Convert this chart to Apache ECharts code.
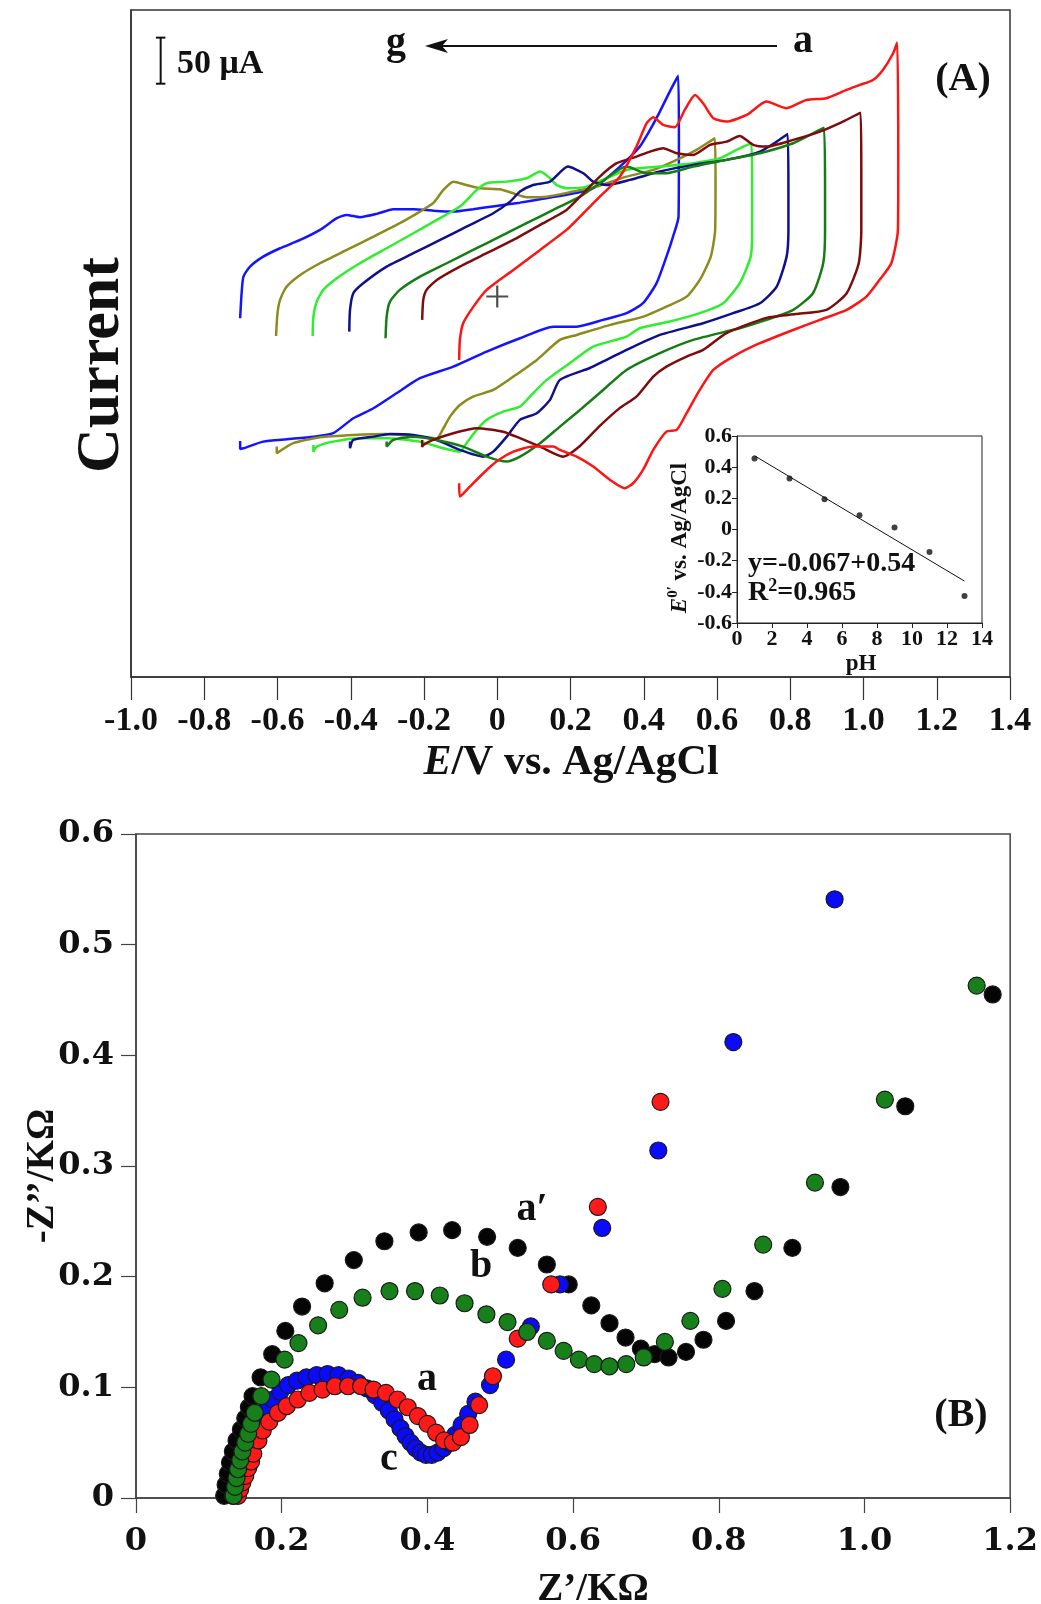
<!DOCTYPE html>
<html>
<head>
<meta charset="utf-8">
<script src="https://cdn.jsdelivr.net/npm/echarts@6/dist/echarts.min.js"></script>
<style>html,body{margin:0;padding:0;background:#fff}#c{width:1041px;height:1604px}</style>
</head>
<body>
<div id="c"></div>
<script>
// ---------- Panel A : cyclic voltammograms (E / V, current / µA, arbitrary zero) ----------
const cv_a_red = [[-0.104,-68.8],[-0.102,-47.1],[-0.093,-29.0],[-0.065,-11.0],[-0.029,7.2],[0.044,28.9],[0.117,50.6],[0.189,72.3],[0.226,86.7],[0.280,108.4],[0.335,130.2],[0.380,162.7],[0.408,188.1],[0.426,194.6],[0.453,186.3],[0.485,183.8],[0.512,202.6],[0.540,218.8],[0.562,209.8],[0.590,193.5],[0.626,189.9],[0.681,197.1],[0.735,211.6],[0.790,204.4],[0.844,213.4],[0.899,215.3],[0.954,224.3],[0.990,229.7],[1.026,235.1],[1.053,246.0],[1.081,264.1],[1.092,275.6],[1.095,144.7],[1.094,72.3],[1.076,36.1],[1.044,18.1],[1.008,-0.1],[0.954,-14.5],[0.881,-25.4],[0.808,-36.3],[0.717,-50.7],[0.644,-65.2],[0.590,-79.7],[0.553,-101.4],[0.517,-126.7],[0.490,-144.8],[0.462,-146.7],[0.426,-166.5],[0.398,-188.2],[0.371,-202.7],[0.348,-208.1],[0.308,-199.1],[0.262,-184.6],[0.217,-173.8],[0.171,-166.5],[0.153,-162.9],[0.098,-162.9],[0.044,-168.4],[-0.002,-179.2],[-0.038,-191.8],[-0.075,-206.4],[-0.102,-217.2],[-0.104,-202.7]];
const cv_b_maroon = [[-0.205,-25.4],[-0.202,-3.7],[-0.193,7.2],[-0.165,18.0],[-0.102,32.5],[-0.029,47.0],[0.044,61.4],[0.117,77.7],[0.189,94.0],[0.226,108.4],[0.280,130.2],[0.326,144.7],[0.380,151.9],[0.417,157.3],[0.453,161.0],[0.490,155.6],[0.535,153.7],[0.581,164.6],[0.626,168.1],[0.662,174.3],[0.699,164.6],[0.735,162.7],[0.808,170.0],[0.881,179.0],[0.944,189.9],[0.992,199.6],[0.994,137.4],[0.994,72.3],[0.987,36.1],[0.954,3.6],[0.899,-14.5],[0.815,-19.1],[0.735,-23.2],[0.626,-39.8],[0.562,-58.0],[0.517,-65.2],[0.462,-76.1],[0.426,-86.9],[0.380,-108.7],[0.335,-120.9],[0.280,-140.5],[0.226,-162.2],[0.180,-173.8],[0.117,-162.9],[0.062,-153.8],[0.016,-146.7],[-0.056,-143.0],[-0.120,-148.4],[-0.175,-155.7],[-0.202,-161.1],[-0.205,-163.3],[-0.205,-155.7]];
const cv_c_darkgreen = [[-0.305,-45.3],[-0.302,-21.8],[-0.293,-5.5],[-0.266,7.2],[-0.211,21.6],[-0.138,36.1],[-0.066,50.6],[0.007,65.0],[0.080,79.6],[0.153,94.0],[0.226,108.4],[0.280,123.0],[0.353,141.0],[0.408,133.8],[0.462,133.8],[0.535,141.0],[0.626,148.3],[0.717,155.6],[0.808,166.4],[0.854,175.4],[0.892,183.3],[0.895,115.7],[0.895,72.3],[0.890,36.1],[0.862,3.6],[0.808,-14.5],[0.735,-25.4],[0.662,-34.4],[0.535,-47.1],[0.444,-61.5],[0.353,-79.7],[0.289,-101.4],[0.226,-123.1],[0.171,-141.2],[0.117,-159.2],[0.062,-173.8],[0.026,-179.2],[-0.029,-173.8],[-0.093,-162.9],[-0.165,-155.7],[-0.229,-152.1],[-0.284,-155.7],[-0.302,-162.9],[-0.302,-157.5]];
const cv_d_navy = [[-0.404,-38.1],[-0.402,-14.5],[-0.393,3.6],[-0.366,14.4],[-0.302,32.5],[-0.229,47.0],[-0.156,61.4],[-0.084,75.9],[-0.011,90.4],[0.035,103.0],[0.062,113.9],[0.098,121.1],[0.144,124.7],[0.193,141.0],[0.235,133.8],[0.262,124.7],[0.299,121.1],[0.362,126.6],[0.444,135.6],[0.535,142.9],[0.626,148.3],[0.717,157.3],[0.763,168.1],[0.793,176.5],[0.795,115.7],[0.795,72.3],[0.790,43.3],[0.763,10.7],[0.717,-7.3],[0.644,-18.1],[0.562,-29.0],[0.444,-41.7],[0.353,-58.0],[0.280,-72.4],[0.253,-77.6],[0.171,-90.5],[0.144,-112.2],[0.108,-126.7],[0.062,-133.9],[0.026,-152.1],[-0.011,-168.4],[-0.038,-173.8],[-0.102,-166.5],[-0.165,-155.7],[-0.229,-150.2],[-0.293,-149.1],[-0.338,-152.1],[-0.393,-155.7],[-0.402,-164.7],[-0.402,-157.5]];
const cv_e_lightgreen = [[-0.504,-42.8],[-0.502,-21.8],[-0.493,-5.5],[-0.475,7.2],[-0.438,19.9],[-0.375,36.1],[-0.302,52.4],[-0.229,68.7],[-0.165,83.2],[-0.102,97.6],[-0.056,115.7],[-0.029,123.0],[0.026,124.7],[0.080,128.4],[0.117,135.6],[0.144,128.4],[0.162,121.1],[0.189,117.6],[0.244,119.3],[0.353,137.4],[0.444,141.0],[0.535,144.7],[0.608,150.1],[0.653,159.1],[0.694,166.4],[0.696,115.7],[0.696,72.3],[0.692,43.3],[0.662,14.4],[0.617,-7.3],[0.553,-18.1],[0.471,-27.2],[0.389,-34.4],[0.353,-43.5],[0.262,-54.4],[0.198,-72.4],[0.135,-90.5],[0.089,-108.7],[0.062,-119.5],[0.016,-124.9],[-0.029,-133.9],[-0.056,-144.8],[-0.084,-159.2],[-0.102,-168.4],[-0.147,-164.7],[-0.211,-157.5],[-0.302,-153.8],[-0.375,-153.8],[-0.448,-157.5],[-0.493,-162.9],[-0.502,-168.4],[-0.502,-161.1]];
const cv_f_olive = [[-0.604,-42.8],[-0.600,-18.1],[-0.593,-3.7],[-0.575,10.7],[-0.538,23.4],[-0.484,36.1],[-0.411,50.6],[-0.338,65.0],[-0.266,79.6],[-0.211,92.2],[-0.175,101.3],[-0.147,115.7],[-0.120,124.7],[-0.084,121.1],[-0.047,117.6],[0.007,116.5],[0.044,112.1],[0.080,107.8],[0.135,108.4],[0.207,113.9],[0.271,119.3],[0.353,130.1],[0.426,137.4],[0.490,148.3],[0.544,159.1],[0.594,171.8],[0.596,126.7],[0.595,72.3],[0.583,43.3],[0.553,18.0],[0.517,-0.1],[0.462,-11.0],[0.399,-21.8],[0.308,-30.8],[0.217,-41.7],[0.171,-47.1],[0.108,-68.8],[0.044,-86.9],[-0.011,-101.4],[-0.066,-108.7],[-0.102,-117.7],[-0.129,-130.4],[-0.147,-143.0],[-0.165,-153.8],[-0.211,-152.1],[-0.302,-149.1],[-0.393,-150.2],[-0.484,-152.7],[-0.557,-159.2],[-0.602,-170.1],[-0.602,-162.9]];
const cv_g_blue = [[-0.702,-23.6],[-0.698,3.6],[-0.693,21.6],[-0.675,32.5],[-0.639,43.3],[-0.593,52.4],[-0.538,61.4],[-0.484,72.3],[-0.438,85.0],[-0.411,88.6],[-0.375,86.1],[-0.329,89.7],[-0.284,94.8],[-0.229,94.8],[-0.175,93.2],[-0.120,92.2],[-0.066,94.8],[-0.002,98.3],[0.062,101.9],[0.117,105.6],[0.189,110.3],[0.262,117.6],[0.335,141.0],[0.389,162.7],[0.417,180.8],[0.444,200.7],[0.471,222.4],[0.494,239.5],[0.496,170.0],[0.495,86.7],[0.480,65.0],[0.462,43.3],[0.435,14.5],[0.398,-7.3],[0.353,-18.1],[0.289,-25.4],[0.217,-32.7],[0.153,-32.7],[0.062,-45.3],[-0.029,-59.8],[-0.120,-76.1],[-0.211,-88.7],[-0.275,-105.0],[-0.338,-121.3],[-0.393,-132.1],[-0.448,-148.4],[-0.502,-152.1],[-0.575,-154.9],[-0.639,-157.5],[-0.693,-164.7],[-0.702,-165.4],[-0.702,-156.7]];
const cvSeriesNames = ['a','b','c','d','e','f','g'];
const xTicksA = {min: -1.0, max: 1.4, step: 0.2};
const scaleBarV = [[-0.919, 231], [-0.919, 281]];   // 50 µA
const scaleBarTop = [[-0.932, 281], [-0.906, 281]];
const scaleBarBottom = [[-0.932, 231], [-0.906, 231]];
const originMark = [[0, 0]];

// ---------- Inset : formal potential vs pH ----------
const pHValues = [1, 3, 5, 7, 9, 11, 13];
const E0Values = [0.455, 0.327, 0.194, 0.092, 0.013, -0.145, -0.427];
const fitLine = [[1, 0.473], [13, -0.331]];

// ---------- Panel B : Nyquist plots (Z' / kΩ, -Z'' / kΩ) ----------
const nyq_aPrime_black = [[0.121,0.002],[0.123,0.012],[0.126,0.022],[0.129,0.032],[0.133,0.042],[0.138,0.052],[0.144,0.062],[0.150,0.072],[0.155,0.082],[0.160,0.092],[0.171,0.109],[0.187,0.130],[0.205,0.151],[0.228,0.173],[0.259,0.194],[0.299,0.215],[0.341,0.232],[0.388,0.240],[0.434,0.242],[0.482,0.236],[0.524,0.226],[0.564,0.211],[0.594,0.193],[0.625,0.174],[0.650,0.158],[0.672,0.145],[0.693,0.135],[0.712,0.130],[0.731,0.127],[0.755,0.132],[0.779,0.143],[0.810,0.160],[0.849,0.187],[0.901,0.226],[0.967,0.281],[1.056,0.354],[1.176,0.455]];
const nyq_c_blue = [[0.133,0.002],[0.136,0.010],[0.139,0.018],[0.142,0.026],[0.146,0.034],[0.150,0.042],[0.155,0.050],[0.160,0.058],[0.166,0.066],[0.173,0.074],[0.180,0.082],[0.188,0.089],[0.198,0.096],[0.209,0.102],[0.221,0.106],[0.234,0.109],[0.248,0.111],[0.263,0.112],[0.278,0.111],[0.292,0.108],[0.305,0.104],[0.317,0.099],[0.328,0.093],[0.338,0.086],[0.347,0.079],[0.355,0.071],[0.363,0.063],[0.370,0.056],[0.377,0.050],[0.384,0.045],[0.391,0.041],[0.398,0.039],[0.406,0.039],[0.414,0.041],[0.422,0.045],[0.430,0.050],[0.438,0.057],[0.447,0.066],[0.456,0.076],[0.466,0.087],[0.486,0.102],[0.508,0.125],[0.542,0.155],[0.582,0.193],[0.640,0.244],[0.717,0.314],[0.820,0.412],[0.959,0.541]];
const nyq_a_red = [[0.140,0.002],[0.143,0.008],[0.146,0.014],[0.150,0.020],[0.154,0.027],[0.158,0.033],[0.161,0.040],[0.168,0.052],[0.174,0.061],[0.183,0.069],[0.195,0.077],[0.207,0.083],[0.222,0.089],[0.238,0.095],[0.256,0.098],[0.273,0.101],[0.291,0.101],[0.309,0.101],[0.326,0.098],[0.343,0.095],[0.359,0.089],[0.373,0.082],[0.387,0.074],[0.400,0.067],[0.412,0.059],[0.423,0.052],[0.435,0.050],[0.446,0.055],[0.458,0.066],[0.471,0.084],[0.490,0.110],[0.524,0.144],[0.570,0.193],[0.634,0.263],[0.720,0.358]];
const nyq_b_green = [[0.134,0.002],[0.136,0.010],[0.138,0.018],[0.140,0.026],[0.143,0.034],[0.146,0.042],[0.150,0.050],[0.154,0.058],[0.158,0.067],[0.163,0.077],[0.172,0.092],[0.186,0.107],[0.204,0.125],[0.223,0.140],[0.250,0.156],[0.279,0.170],[0.311,0.181],[0.348,0.187],[0.383,0.187],[0.417,0.183],[0.451,0.176],[0.481,0.166],[0.510,0.159],[0.537,0.150],[0.564,0.142],[0.587,0.133],[0.608,0.125],[0.629,0.121],[0.650,0.119],[0.673,0.121],[0.697,0.127],[0.726,0.141],[0.761,0.160],[0.805,0.189],[0.861,0.229],[0.932,0.285],[1.028,0.360],[1.154,0.463]];

// ---------- chart ----------
const chart = echarts.init(document.getElementById('c'), null, {renderer: 'canvas'});
const SERIF = '"Liberation Serif", "Times New Roman", serif';
const WIDE = '"DejaVu Serif", serif';
const fmt1 = v => Math.abs(v) < 1e-9 ? '0' : v.toFixed(1);

function cv(name, data, color) {
  return {name, type: 'line', xAxisIndex: 0, yAxisIndex: 0, data, showSymbol: false, symbol: 'none',
    smooth: 0.2, lineStyle: {color, width: 2.5}, silent: true, z: 3};
}
function nyq(name, data, color) {
  return {name, type: 'scatter', xAxisIndex: 1, yAxisIndex: 1, data, symbolSize: 17,
    itemStyle: {color, borderColor: '#1a1a1a', borderWidth: 1.2, opacity: 1}, silent: true};
}
function seg(data, w) {
  return {type: 'line', xAxisIndex: 0, yAxisIndex: 0, data, showSymbol: false, symbol: 'none',
    lineStyle: {color: '#111', width: w}, silent: true, z: 4};
}

const option = {
  animation: false,
  backgroundColor: '#fff',
  grid: [
    {left: 131, top: 10, width: 879, height: 667, show: true, borderColor: '#333', borderWidth: 1.5, backgroundColor: 'transparent'},
    {left: 136, top: 834, width: 876, height: 664, show: true, borderColor: '#444', borderWidth: 1.5, backgroundColor: 'transparent'},
    {left: 737, top: 436, width: 245, height: 187, show: true, borderColor: '#222', borderWidth: 1, backgroundColor: '#fff', z: 5}
  ],
  xAxis: [
    {gridIndex: 0, type: 'value', min: xTicksA.min, max: xTicksA.max, interval: xTicksA.step,
      axisLine: {onZero: false, lineStyle: {color: '#333', width: 1.5}}, axisTick: {length: 23, lineStyle: {color: '#333', width: 1.2}},
      axisLabel: {fontFamily: SERIF, fontWeight: 'bold', fontSize: 34, color: '#111', margin: 27, formatter: fmt1},
      splitLine: {show: false}},
    {gridIndex: 1, type: 'value', min: 0, max: 1.2, interval: 0.2,
      axisLine: {onZero: false, lineStyle: {color: '#444', width: 1.5}}, axisTick: {length: 15, lineStyle: {color: '#444', width: 1.2}},
      axisLabel: {fontFamily: WIDE, fontWeight: 'bold', fontSize: 32, color: '#111', margin: 28, formatter: fmt1},
      splitLine: {show: false}},
    {gridIndex: 2, type: 'value', min: 0, max: 14, interval: 2, z: 6,
      axisLine: {onZero: false, lineStyle: {color: '#222', width: 1}}, axisTick: {length: 5, lineStyle: {color: '#222'}},
      axisLabel: {fontFamily: SERIF, fontWeight: 'bold', fontSize: 22, color: '#111', margin: 5},
      splitLine: {show: false}}
  ],
  yAxis: [
    {gridIndex: 0, type: 'value', min: -413, max: 311,
      axisLine: {show: true, onZero: false, lineStyle: {color: '#333', width: 1.5}}, axisTick: {show: false}, axisLabel: {show: false},
      splitLine: {show: false}},
    {gridIndex: 1, type: 'value', min: 0, max: 0.6, interval: 0.1,
      axisLine: {show: true, onZero: false, lineStyle: {color: '#444', width: 1.5}}, axisTick: {length: 15, lineStyle: {color: '#444', width: 1.2}},
      axisLabel: {fontFamily: WIDE, fontWeight: 'bold', fontSize: 32, color: '#111', margin: 22, formatter: fmt1},
      splitLine: {show: false}},
    {gridIndex: 2, type: 'value', min: -0.6, max: 0.6, interval: 0.2, z: 6,
      axisLine: {show: true, onZero: false, lineStyle: {color: '#222', width: 1}}, axisTick: {length: 5, lineStyle: {color: '#222'}},
      axisLabel: {fontFamily: SERIF, fontWeight: 'bold', fontSize: 22, color: '#111', margin: 5, formatter: fmt1},
      splitLine: {show: false}}
  ],
  series: [
    cv(cvSeriesNames[6], cv_g_blue, '#1414ff'),
    cv(cvSeriesNames[5], cv_f_olive, '#8e8a1e'),
    cv(cvSeriesNames[4], cv_e_lightgreen, '#2fee2f'),
    cv(cvSeriesNames[3], cv_d_navy, '#10108c'),
    cv(cvSeriesNames[2], cv_c_darkgreen, '#167c16'),
    cv(cvSeriesNames[1], cv_b_maroon, '#7e0c0c'),
    cv(cvSeriesNames[0], cv_a_red, '#ff1414'),
    seg(scaleBarV, 2), seg(scaleBarTop, 2), seg(scaleBarBottom, 2),
    {type: 'scatter', xAxisIndex: 0, yAxisIndex: 0, data: originMark,
      symbol: 'path://M9,0H11V20H9Z M0,9H20V11H0Z',
      symbolSize: 22, itemStyle: {color: '#222'}, silent: true, z: 4},
    {type: 'line', xAxisIndex: 2, yAxisIndex: 2, data: fitLine, showSymbol: false, symbol: 'none',
      lineStyle: {color: '#111', width: 1}, silent: true, z: 7},
    {type: 'scatter', xAxisIndex: 2, yAxisIndex: 2, data: pHValues.map((p, i) => [p, E0Values[i]]),
      symbolSize: 6, itemStyle: {color: '#111'}, silent: true, z: 7},
    nyq("a'", nyq_aPrime_black, '#050505'),
    nyq('c', nyq_c_blue, '#0a0aff'),
    nyq('a', nyq_a_red, '#ff1a1a'),
    nyq('b', nyq_b_green, '#17801a')
  ],
  graphic: [
    {type: 'text', x: 102, y: 365, rotation: Math.PI / 2, z: 10,
      style: {text: 'Current', fontFamily: SERIF, fontWeight: 'bold', fontSize: 62, fill: '#111', align: 'center', verticalAlign: 'middle'}},
    {type: 'text', x: 571, y: 763, z: 10,
      style: {text: '{i|E}{n|/V vs. Ag/AgCl}', align: 'center', verticalAlign: 'middle',
        rich: {i: {fontFamily: SERIF, fontWeight: 'bold', fontStyle: 'italic', fontSize: 42, fill: '#111'},
               n: {fontFamily: SERIF, fontWeight: 'bold', fontSize: 42, fill: '#111'}}}},
    {type: 'text', x: 177, y: 64, z: 10,
      style: {text: '50 μA', fontFamily: SERIF, fontWeight: 'bold', fontSize: 34, fill: '#111', align: 'left', verticalAlign: 'middle'}},
    {type: 'text', x: 396, y: 44, z: 10,
      style: {text: 'g', fontFamily: SERIF, fontWeight: 'bold', fontSize: 40, fill: '#111', align: 'center', verticalAlign: 'middle'}},
    {type: 'text', x: 803, y: 42, z: 10,
      style: {text: 'a', fontFamily: SERIF, fontWeight: 'bold', fontSize: 40, fill: '#111', align: 'center', verticalAlign: 'middle'}},
    {type: 'line', z: 10, shape: {x1: 440, y1: 46, x2: 777, y2: 46}, style: {stroke: '#111', lineWidth: 2}},
    {type: 'polygon', z: 10, shape: {points: [[425, 46], [448, 39], [442, 46], [448, 53]]}, style: {fill: '#111'}},
    {type: 'text', x: 963, y: 80, z: 10,
      style: {text: '(A)', fontFamily: SERIF, fontWeight: 'bold', fontSize: 40, fill: '#111', align: 'center', verticalAlign: 'middle'}},
    {type: 'text', x: 679, y: 538, rotation: Math.PI / 2, z: 10,
      style: {text: '{i|E}{s|0′}{n| vs. Ag/AgCl}', align: 'center', verticalAlign: 'middle',
        rich: {i: {fontFamily: SERIF, fontWeight: 'bold', fontStyle: 'italic', fontSize: 23, fill: '#111', lineHeight: 26, verticalAlign: 'bottom'},
               s: {fontFamily: SERIF, fontWeight: 'bold', fontSize: 15, fill: '#111', lineHeight: 26, verticalAlign: 'top'},
               n: {fontFamily: SERIF, fontWeight: 'bold', fontSize: 23, fill: '#111', lineHeight: 26, verticalAlign: 'bottom'}}}},
    {type: 'text', x: 861, y: 664, z: 10,
      style: {text: 'pH', fontFamily: SERIF, fontWeight: 'bold', fontSize: 23, fill: '#111', align: 'center', verticalAlign: 'middle'}},
    {type: 'text', x: 748, y: 564, z: 10,
      style: {text: 'y=-0.067+0.54', fontFamily: SERIF, fontWeight: 'bold', fontSize: 28, fill: '#111', align: 'left', verticalAlign: 'middle'}},
    {type: 'text', x: 748, y: 592, z: 10,
      style: {text: '{n|R}{s|2}{n|=0.965}', align: 'left', verticalAlign: 'middle',
        rich: {n: {fontFamily: SERIF, fontWeight: 'bold', fontSize: 28, fill: '#111', lineHeight: 30, verticalAlign: 'bottom'},
               s: {fontFamily: SERIF, fontWeight: 'bold', fontSize: 18, fill: '#111', lineHeight: 30, verticalAlign: 'top'}}}},
    {type: 'text', x: 43, y: 1176, rotation: Math.PI / 2, z: 10,
      style: {text: '-Z’’/KΩ', fontFamily: SERIF, fontWeight: 'bold', fontSize: 39, fill: '#111', align: 'center', verticalAlign: 'middle'}},
    {type: 'text', x: 593, y: 1590, z: 10,
      style: {text: 'Z’/KΩ', fontFamily: SERIF, fontWeight: 'bold', fontSize: 39, fill: '#111', align: 'center', verticalAlign: 'middle'}},
    {type: 'text', x: 961, y: 1416, z: 10,
      style: {text: '(B)', fontFamily: SERIF, fontWeight: 'bold', fontSize: 40, fill: '#111', align: 'center', verticalAlign: 'middle'}},
    {type: 'text', x: 532, y: 1210, z: 10,
      style: {text: 'a′', fontFamily: SERIF, fontWeight: 'bold', fontSize: 40, fill: '#111', align: 'center', verticalAlign: 'middle'}},
    {type: 'text', x: 481, y: 1267, z: 10,
      style: {text: 'b', fontFamily: SERIF, fontWeight: 'bold', fontSize: 40, fill: '#111', align: 'center', verticalAlign: 'middle'}},
    {type: 'text', x: 427, y: 1380, z: 10,
      style: {text: 'a', fontFamily: SERIF, fontWeight: 'bold', fontSize: 40, fill: '#111', align: 'center', verticalAlign: 'middle'}},
    {type: 'text', x: 389, y: 1460, z: 10,
      style: {text: 'c', fontFamily: SERIF, fontWeight: 'bold', fontSize: 40, fill: '#111', align: 'center', verticalAlign: 'middle'}}
  ]
};
chart.setOption(option);
</script>
</body>
</html>
